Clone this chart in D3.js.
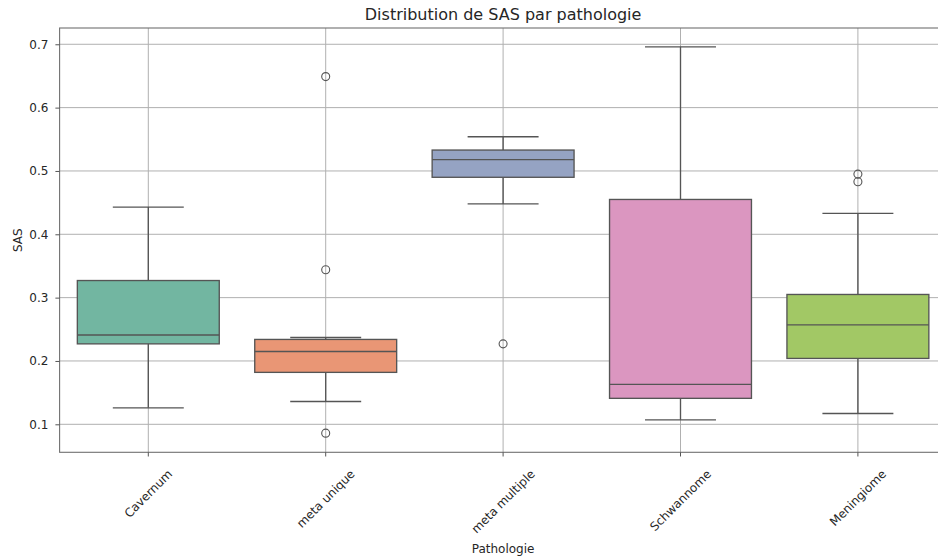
<!DOCTYPE html>
<html>
<head>
<meta charset="utf-8">
<script src="https://cdn.jsdelivr.net/npm/d3@7"></script>
<style>
  html, body { margin: 0; padding: 0; background: #ffffff; }
  svg { display: block; font-family: "DejaVu Sans", sans-serif; }
</style>
</head>
<body>
<svg id="chart" width="938" height="558"></svg>
<script>
// Box summaries of SAS per pathology
const categories = ["Cavernum", "meta unique", "meta multiple", "Schwannome", "Meningiome"];
const whiskerLow  = [0.126, 0.136, 0.448, 0.107, 0.117];
const q1          = [0.227, 0.182, 0.490, 0.141, 0.204];
const median      = [0.241, 0.215, 0.518, 0.163, 0.257];
const q3          = [0.327, 0.234, 0.533, 0.455, 0.305];
const whiskerHigh = [0.443, 0.237, 0.554, 0.696, 0.433];
const outliers    = [[], [0.649, 0.344, 0.086], [0.227], [], [0.495, 0.483]];
const yTicks      = [0.1, 0.2, 0.3, 0.4, 0.5, 0.6, 0.7];

// Set2 palette, desaturated like seaborn box fills
const palette = ["#66c2a5", "#fc8d62", "#8da0cb", "#e78ac3", "#a6d854"].map(c => {
  const h = d3.hsl(c); h.s *= 0.75; return h.formatHex();
});

const svg = d3.select("#chart");
const plot = { left: 59.6, right: 946.6, top: 28, bottom: 452.3 };
const textColor = "#262626";
const lineColor = "#555555";

const x = d3.scaleBand().domain(categories).range([plot.left, plot.right]).padding(0);
const y = d3.scaleLinear().domain([0.0558, 0.7257]).range([plot.bottom, plot.top]);

// grid
const grid = svg.append("g");
grid.selectAll("line.h").data(yTicks).join("line")
  .attr("x1", plot.left).attr("x2", plot.right)
  .attr("y1", d => y(d)).attr("y2", d => y(d))
  .attr("stroke", "#b0b0b0").attr("stroke-width", 1);
grid.selectAll("line.v").data(categories).join("line")
  .attr("x1", d => x(d) + x.bandwidth() / 2).attr("x2", d => x(d) + x.bandwidth() / 2)
  .attr("y1", plot.top).attr("y2", plot.bottom)
  .attr("stroke", "#b0b0b0").attr("stroke-width", 1);

// boxes
const boxW = x.bandwidth() * 0.8;
const rows = categories.map((c, i) => ({
  c, i, lo: whiskerLow[i], q1: q1[i], med: median[i], q3: q3[i], hi: whiskerHigh[i], out: outliers[i]
}));
const g = svg.append("g").attr("stroke", lineColor).attr("stroke-width", 1.35);
rows.forEach(r => {
  const cx = x(r.c) + x.bandwidth() / 2;
  g.append("line").attr("x1", cx).attr("x2", cx).attr("y1", y(r.q3)).attr("y2", y(r.hi));
  g.append("line").attr("x1", cx).attr("x2", cx).attr("y1", y(r.q1)).attr("y2", y(r.lo));
  g.append("line").attr("x1", cx - boxW / 4).attr("x2", cx + boxW / 4).attr("y1", y(r.hi)).attr("y2", y(r.hi));
  g.append("line").attr("x1", cx - boxW / 4).attr("x2", cx + boxW / 4).attr("y1", y(r.lo)).attr("y2", y(r.lo));
  g.append("rect").attr("x", cx - boxW / 2).attr("width", boxW)
    .attr("y", y(r.q3)).attr("height", y(r.q1) - y(r.q3))
    .attr("fill", palette[r.i]);
  g.append("line").attr("x1", cx - boxW / 2).attr("x2", cx + boxW / 2).attr("y1", y(r.med)).attr("y2", y(r.med));
  g.selectAll(null).data(r.out).join("circle")
    .attr("cx", cx).attr("cy", d => y(d)).attr("r", 4)
    .attr("fill", "none").attr("stroke-width", 1.1);
});

// spines
const spine = svg.append("g").attr("stroke", "#707070").attr("stroke-width", 1.1).attr("fill", "none");
spine.append("rect").attr("x", plot.left).attr("y", plot.top)
  .attr("width", plot.right - plot.left).attr("height", plot.bottom - plot.top);

// y axis
const yAxis = svg.append("g").attr("transform", `translate(${plot.left},0)`)
  .call(d3.axisLeft(y).tickValues(yTicks).tickFormat(d3.format(".1f")).tickSize(4.2).tickPadding(7));
yAxis.select(".domain").remove();
yAxis.selectAll(".tick line").attr("stroke", "#555");
yAxis.selectAll("text").attr("fill", textColor).style("font-size", "12px")
  .style("font-family", "DejaVu Sans");

// x axis
const xAxis = svg.append("g").attr("transform", `translate(0,${plot.bottom})`)
  .call(d3.axisBottom(x).tickSize(4.2).tickFormat(""));
xAxis.select(".domain").remove();
xAxis.selectAll(".tick line").attr("stroke", "#555");

// rotated category labels, centred under each tick
const labels = svg.append("g").style("font-size", "12px").attr("fill", textColor);
categories.forEach(c => {
  const cx = x(c) + x.bandwidth() / 2;
  const t = labels.append("text").text(c).attr("text-anchor", "middle").attr("dy", "0.35em");
  const w = t.node().getComputedTextLength();
  const h = 14;
  const half = (w + h) * Math.SQRT1_2 / 2;
  t.attr("transform", `translate(${cx},${plot.bottom + 14.5 + half}) rotate(-45)`);
});

// titles
svg.append("text").attr("x", (plot.left + plot.right) / 2).attr("y", 20)
  .attr("text-anchor", "middle").attr("fill", textColor).style("font-size", "16px")
  .text("Distribution de SAS par pathologie");
svg.append("text").attr("x", (plot.left + plot.right) / 2).attr("y", 553)
  .attr("text-anchor", "middle").attr("fill", textColor).style("font-size", "12px")
  .text("Pathologie");
svg.append("text").attr("transform", `translate(22,${(plot.top + plot.bottom) / 2}) rotate(-90)`)
  .attr("text-anchor", "middle").attr("fill", textColor).style("font-size", "12px")
  .text("SAS");
</script>
</body>
</html>
